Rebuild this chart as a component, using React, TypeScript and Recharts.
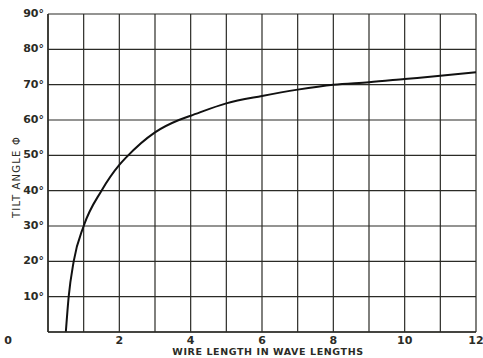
import React from "react"
import { LineChart, Line, XAxis, YAxis, CartesianGrid } from "recharts"

// values
const wireLength = [0.5, 0.58, 0.72, 1.0, 1.5, 2.0, 2.2, 3.0, 3.67, 4, 5, 6, 7, 8, 9, 10, 11, 12]
const tiltAngle = [0, 10, 20, 30, 40, 47.3, 49.5, 56.5, 60, 61.2, 64.7, 66.8, 68.6, 70, 70.7, 71.6, 72.5, 73.5]

const xTicks = [0, 1, 2, 3, 4, 5, 6, 7, 8, 9, 10, 11, 12]
const yTicks = [0, 10, 20, 30, 40, 50, 60, 70, 80, 90]

const data = wireLength.map((x, i) => ({ x, phi: tiltAngle[i] }))

const INK = "#2b2b26"
const FONT = "'DejaVu Sans', sans-serif"

const XTick = (props: any) => {
  const { x, y, payload } = props
  const v = payload.value
  if (v % 2 !== 0) return null
  // the corner "0" sits off to the left in the original
  const dx = v === 0 ? -40 : 0
  return (
    <text x={x + dx} y={y + 4} textAnchor="middle" fontSize={11} fontFamily={FONT} fontWeight="bold" fill={INK}>
      {v}
    </text>
  )
}

const YTick = (props: any) => {
  const { x, y, payload } = props
  if (payload.value === 0) return null
  return (
    <text x={x + 4} y={y + 3} textAnchor="end" fontSize={11} fontFamily={FONT} fontWeight="bold" fill={INK}>
      {payload.value}°
    </text>
  )
}

const YTitle = () => (
  <text
    x={16}
    y={177}
    transform="rotate(-90 16 177)"
    textAnchor="middle"
    dominantBaseline="central"
    fontSize={10}
    fontFamily={FONT}
    letterSpacing={1.2}
    fill={INK}
  >
    TILT ANGLE Φ
  </text>
)

const XTitle = () => (
  <text x={268} y={355} textAnchor="middle" fontSize={9.5} fontFamily={FONT} fontWeight="bold" letterSpacing={0.6} fill={INK}>
    WIRE LENGTH IN WAVE LENGTHS
  </text>
)

export default function App() {
  return (
    <div style={{ position: "absolute", left: 0, top: 0, width: 483, height: 358, background: "#fff" }}>
      <LineChart width={483} height={358} data={data} margin={{ top: 14, right: 7, bottom: 0, left: 0 }}>
        <CartesianGrid stroke={INK} strokeWidth={1.2} />
        <XAxis
          dataKey="x"
          type="number"
          domain={[0, 12]}
          ticks={xTicks}
          interval={0}
          height={26}
          tickLine={false}
          axisLine={{ stroke: INK, strokeWidth: 1.5 }}
          tick={<XTick />}
          label={<XTitle />}
        />
        <YAxis
          type="number"
          domain={[0, 90]}
          ticks={yTicks}
          interval={0}
          width={48}
          tickLine={false}
          axisLine={{ stroke: INK, strokeWidth: 1.5 }}
          tick={<YTick />}
          label={<YTitle />}
        />
        <Line
          type="monotone"
          dataKey="phi"
          stroke="#111"
          strokeWidth={2}
          dot={false}
          isAnimationActive={false}
        />
      </LineChart>
    </div>
  )
}
